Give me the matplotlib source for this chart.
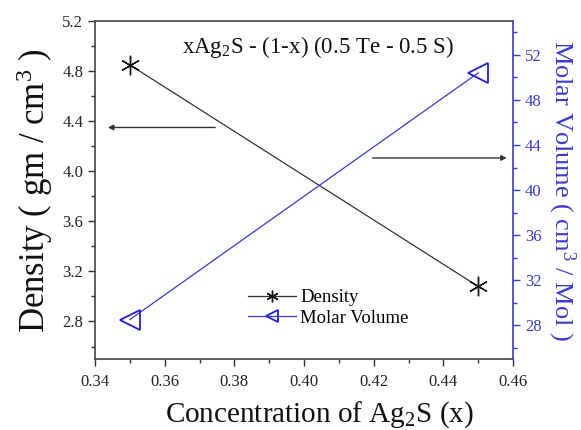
import matplotlib
matplotlib.use("Agg")
import matplotlib.pyplot as plt
from matplotlib.ticker import MultipleLocator

conc = [0.35, 0.45]
density = [4.85, 3.08]
molar_volume = [28.5, 50.4]

plt.rcParams['font.family'] = ['Liberation Serif', 'DejaVu Serif']
plt.rcParams['mathtext.fontset'] = 'custom'
plt.rcParams['mathtext.rm'] = 'Liberation Serif'
plt.rcParams['mathtext.it'] = 'Liberation Serif:italic'

blue = '#3a3ad0'
grey = '#333333'

fig = plt.figure(figsize=(5.81, 4.30), dpi=100)
ax = fig.add_axes([0.1635, 0.165, 0.7195, 0.786])
ax2 = ax.twinx()

l1, = ax.plot(conc, density, color=grey, lw=0.9, marker=(6, 2, 0), ms=14,
              mec='#111111', mew=1.0, label='Density')
l2, = ax2.plot(conc, molar_volume, color=blue, lw=0.9, marker='<', ms=14,
               mfc='none', mec='#2020d0', mew=1.3, label='Molar Volume')

ax.set_xlim(0.34, 0.46)
ax.set_ylim(2.5, 5.2)
ax2.set_ylim(25, 55)

ax.xaxis.set_major_locator(MultipleLocator(0.02))
ax.xaxis.set_minor_locator(MultipleLocator(0.01))
ax.yaxis.set_major_locator(MultipleLocator(0.4))
ax.yaxis.set_minor_locator(MultipleLocator(0.2))
ax2.yaxis.set_major_locator(MultipleLocator(4))
ax2.yaxis.set_minor_locator(MultipleLocator(2))

ax.set_xticks([0.34, 0.36, 0.38, 0.40, 0.42, 0.44, 0.46])
ax.set_xticklabels(['0.34', '0.36', '0.38', '0.40', '0.42', '0.44', '0.46'])
ax.set_yticks([2.8, 3.2, 3.6, 4.0, 4.4, 4.8, 5.2])
ax.set_yticklabels(['2.8', '3.2', '3.6', '4.0', '4.4', '4.8', '5.2'])

ax.tick_params(axis='both', which='major', direction='out', length=5, width=1,
               labelsize=12, colors='#333333', labelcolor='#222222')
ax.tick_params(axis='both', which='minor', direction='out', length=3, width=1, colors='#333333')
ax.tick_params(axis='x', pad=6)
ax2.tick_params(axis='y', which='major', direction='out', length=5, width=1,
                labelsize=12, colors=blue)
ax2.tick_params(axis='y', which='minor', direction='out', length=3, width=1, colors=blue)

for s in ['left', 'bottom', 'top']:
    ax.spines[s].set_color('#444444')
    ax.spines[s].set_linewidth(1.2)
ax2.spines['right'].set_color(blue)
ax2.spines['right'].set_linewidth(1.2)
ax2.spines['left'].set_visible(False)
ax2.spines['top'].set_visible(False)
ax2.spines['bottom'].set_visible(False)
ax.spines['right'].set_visible(False)

ax.set_xlabel('Concentration of Ag$_2$S (x)', fontsize=21, color='#111111', labelpad=5)
ax.xaxis.set_label_coords(0.536, -0.118)
ax.set_ylabel('Density ( gm / cm$^3$ )', fontsize=25, color='#111111', labelpad=5)
ax2.set_ylabel('Molar Volume ( cm$^3$ / Mol )', fontsize=19, color=blue,
               rotation=270, labelpad=26)

ax.text(0.404, 4.99, 'xAg$_2$S - (1-x) (0.5 Te - 0.5 S)', fontsize=16.5,
        ha='center', va='center', color='#111111')

ax.annotate('', xy=(0.3437, 4.35), xytext=(0.3745, 4.35),
            arrowprops=dict(arrowstyle='-|>', color='#333333', lw=1.0,
                            mutation_scale=8, shrinkA=0, shrinkB=0))
ax2.annotate('', xy=(0.4582, 42.85), xytext=(0.4197, 42.85),
             arrowprops=dict(arrowstyle='-|>', color='#333333', lw=1.0,
                             mutation_scale=8, shrinkA=0, shrinkB=0))

leg = ax.legend([l1, l2], ['Density', 'Molar Volume'], loc='lower left',
                bbox_to_anchor=(0.325, 0.045), frameon=False, fontsize=13.5,
                handlelength=2.6, handletextpad=0.2, labelspacing=0.2,
                markerscale=0.6)

fig.savefig('out.png', dpi=100)
